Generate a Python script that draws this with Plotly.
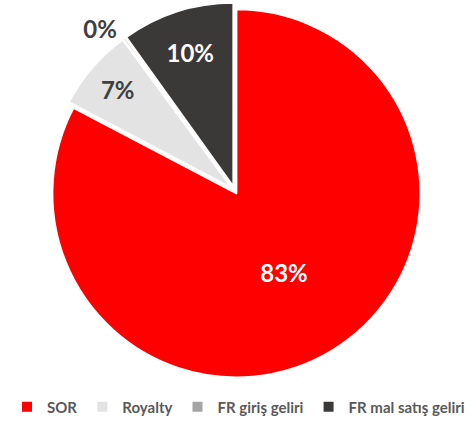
import plotly.graph_objects as go

labels = ["SOR", "Royalty", "FR giriş geliri", "FR mal satış geliri"]
values = [82.7, 7.2, 0.2, 9.9]
colors = ["#FF0000", "#E3E3E3", "#A5A5A5", "#3B3838"]
text_colors = ["#FFFFFF", "#404040", "#404040", "#FFFFFF"]
positions = ["inside", "inside", "outside", "inside"]

W, H = 474, 421

fig = go.Figure(go.Pie(
    labels=labels,
    values=values,
    sort=False,
    direction="clockwise",
    rotation=0,
    pull=[0.02, 0.02, 0.02, 0.02],
    marker=dict(colors=colors, line=dict(color="#FFFFFF", width=2)),
    texttemplate="%{percent:.0%}",
    textposition=positions,
    insidetextorientation="horizontal",
    textfont=dict(family="Lato", size=24, color=text_colors, weight="bold"),
    outsidetextfont=dict(family="Lato", size=24, color="#404040", weight="bold"),
    domain=dict(x=[46.8 / W, 422.2 / W], y=[1 - 377.9 / H, 1 - 2.5 / H]),
    hoverinfo="label+percent",
))

fig.update_layout(
    width=W, height=H,
    margin=dict(l=0, r=0, t=0, b=0, autoexpand=False),
    paper_bgcolor="white",
    showlegend=True,
    legend=dict(
        orientation="h", x=238.5 / W, xanchor="center",
        y=1 - 407 / H, yanchor="middle",
        font=dict(family="Lato", size=15, color="#595959", weight="bold"),
        itemwidth=30, traceorder="normal",
    ),
)

fig.write_html("out.html", config={"displayModeBar": False},
               post_script="document.body.style.margin='0px';")
